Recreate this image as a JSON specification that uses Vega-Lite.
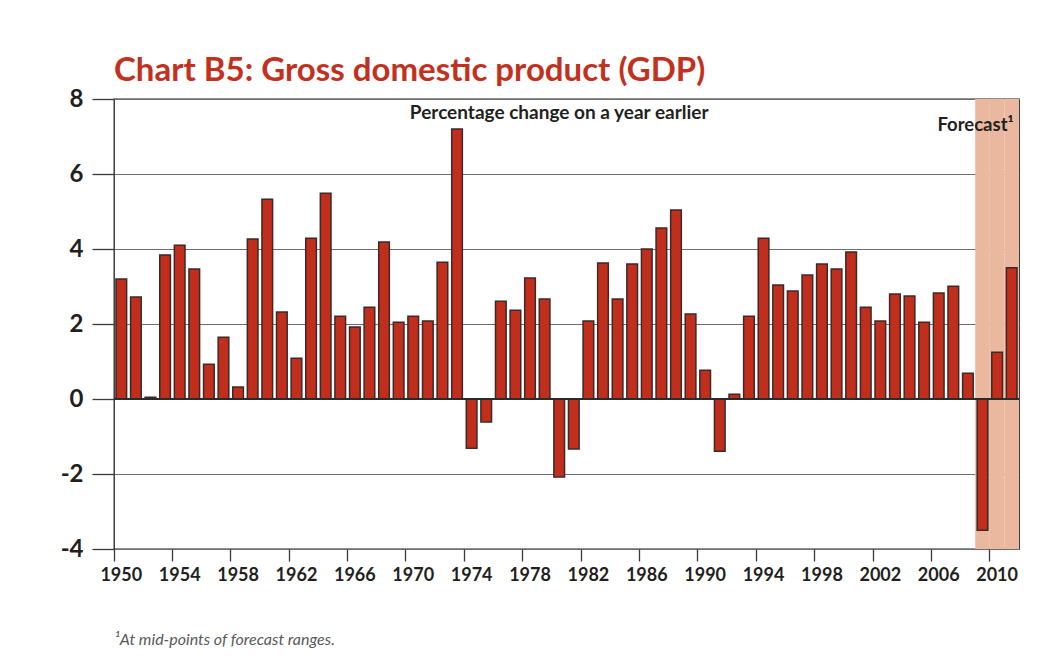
{
  "$schema": "https://vega.github.io/schema/vega-lite/v6.json",
  "width": 905,
  "height": 450,
  "autosize": "none",
  "padding": {"left": 114, "top": 99, "right": 34, "bottom": 121},
  "background": "white",
  "title": {
    "text": "Chart B5: Gross domestic product (GDP)",
    "anchor": "start",
    "frame": "group",
    "font": "Lato, sans-serif",
    "fontSize": 33,
    "fontWeight": "bold",
    "color": "#c2311e",
    "offset": -1
  },
  "config": {
    "view": {"stroke": "#231f20", "strokeWidth": 1.3},
    "font": "Lato, sans-serif",
    "axisX": {"ticks": true, "tickSize": 12}
  },
  "data": {
    "values": [
      {"year": 1950, "growth": 3.2},
      {"year": 1951, "growth": 2.72},
      {"year": 1952, "growth": 0.05},
      {"year": 1953, "growth": 3.84},
      {"year": 1954, "growth": 4.1},
      {"year": 1955, "growth": 3.47},
      {"year": 1956, "growth": 0.93},
      {"year": 1957, "growth": 1.65},
      {"year": 1958, "growth": 0.32},
      {"year": 1959, "growth": 4.27},
      {"year": 1960, "growth": 5.33},
      {"year": 1961, "growth": 2.32},
      {"year": 1962, "growth": 1.09},
      {"year": 1963, "growth": 4.29},
      {"year": 1964, "growth": 5.49},
      {"year": 1965, "growth": 2.21},
      {"year": 1966, "growth": 1.92},
      {"year": 1967, "growth": 2.45},
      {"year": 1968, "growth": 4.19},
      {"year": 1969, "growth": 2.05},
      {"year": 1970, "growth": 2.21},
      {"year": 1971, "growth": 2.08},
      {"year": 1972, "growth": 3.65},
      {"year": 1973, "growth": 7.2},
      {"year": 1974, "growth": -1.31},
      {"year": 1975, "growth": -0.61},
      {"year": 1976, "growth": 2.61},
      {"year": 1977, "growth": 2.37},
      {"year": 1978, "growth": 3.23},
      {"year": 1979, "growth": 2.67},
      {"year": 1980, "growth": -2.08},
      {"year": 1981, "growth": -1.33},
      {"year": 1982, "growth": 2.08},
      {"year": 1983, "growth": 3.63},
      {"year": 1984, "growth": 2.67},
      {"year": 1985, "growth": 3.6},
      {"year": 1986, "growth": 4.0},
      {"year": 1987, "growth": 4.56},
      {"year": 1988, "growth": 5.04},
      {"year": 1989, "growth": 2.27},
      {"year": 1990, "growth": 0.77},
      {"year": 1991, "growth": -1.39},
      {"year": 1992, "growth": 0.13},
      {"year": 1993, "growth": 2.21},
      {"year": 1994, "growth": 4.29},
      {"year": 1995, "growth": 3.04},
      {"year": 1996, "growth": 2.88},
      {"year": 1997, "growth": 3.31},
      {"year": 1998, "growth": 3.6},
      {"year": 1999, "growth": 3.47},
      {"year": 2000, "growth": 3.92},
      {"year": 2001, "growth": 2.45},
      {"year": 2002, "growth": 2.08},
      {"year": 2003, "growth": 2.8},
      {"year": 2004, "growth": 2.75},
      {"year": 2005, "growth": 2.05},
      {"year": 2006, "growth": 2.83},
      {"year": 2007, "growth": 3.01},
      {"year": 2008, "growth": 0.69},
      {"year": 2009, "growth": -3.5},
      {"year": 2010, "growth": 1.25},
      {"year": 2011, "growth": 3.5}
    ]
  },
  "layer": [
    {
      "transform": [{"filter": "datum.year >= 2009"}],
      "mark": {"type": "bar", "width": {"band": 1}, "color": "#e9b89e", "stroke": null},
      "encoding": {
        "x": {
          "field": "year",
          "type": "ordinal",
          "scale": {"type": "band", "paddingInner": 0, "paddingOuter": 0},
          "axis": {
            "values": [1950, 1954, 1958, 1962, 1966, 1970, 1974, 1978, 1982, 1986, 1990, 1994, 1998, 2002, 2006, 2010],
            "bandPosition": 0,
            "labelAngle": 0,
            "labelFontSize": 18,
            "labelFontWeight": "bold",
            "labelColor": "#231f20",
            "labelPadding": 5,
            "ticks": true,
            "tickSize": 12,
            "tickColor": "#3a3a3a",
            "tickWidth": 1.3,
            "domain": false,
            "grid": false,
            "title": "¹At mid-points of forecast ranges.",
            "titleFont": "Lato",
            "titleFontStyle": "italic",
            "titleFontWeight": "normal",
            "titleFontSize": 16,
            "titleColor": "#58595b",
            "titleAnchor": "start",
            "titleAlign": "left",
            "titlePadding": 47
          }
        },
        "y": {"datum": -4, "type": "quantitative"},
        "y2": {"datum": 8}
      }
    },
    {
      "mark": {"type": "bar", "width": {"band": 0.73}, "fill": "#c22e1c", "stroke": "#3a2a2a", "strokeWidth": 1.5},
      "encoding": {
        "x": {"field": "year", "type": "ordinal"},
        "y": {
          "field": "growth",
          "type": "quantitative",
          "scale": {"domain": [-4, 8], "nice": false, "zero": false},
          "axis": {
            "values": [-4, -2, 0, 2, 4, 6, 8],
            "labelExpr": "datum.value",
            "labelFontSize": 24,
            "labelFontWeight": "bold",
            "labelColor": "#231f20",
            "labelPadding": 9,
            "tickSize": 22,
            "tickColor": "#3a3a3a",
            "tickWidth": 1.3,
            "domain": false,
            "grid": true,
            "gridColor": "#6d6e71",
            "gridWidth": 1.2,
            "title": null
          }
        }
      }
    },
    {
      "mark": {"type": "rule", "color": "#2b2b2b", "strokeWidth": 2.2},
      "encoding": {"y": {"datum": 0, "type": "quantitative"}}
    },
    {
      "transform": [{"filter": "datum.year == 1980"}],
      "mark": {"type": "text", "text": "Percentage change on a year earlier", "fontSize": 19, "fontWeight": "bold", "color": "#231f20", "align": "center", "baseline": "alphabetic"},
      "encoding": {
        "x": {"field": "year", "type": "ordinal"},
        "y": {"datum": 7.47, "type": "quantitative"}
      }
    },
    {
      "transform": [{"filter": "datum.year == 2011"}],
      "mark": {"type": "text", "text": "Forecast¹", "fontSize": 18.5, "fontWeight": "bold", "color": "#231f20", "align": "right", "baseline": "alphabetic", "dx": 2},
      "encoding": {
        "x": {"field": "year", "type": "ordinal"},
        "y": {"datum": 7.15, "type": "quantitative"}
      }
    }
  ]
}
